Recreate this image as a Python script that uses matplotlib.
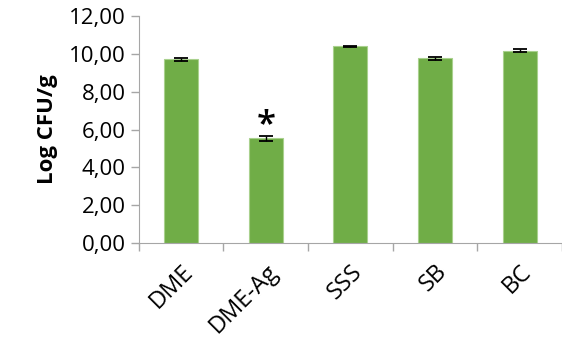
import matplotlib.pyplot as plt
import numpy as np

categories = ['DME', 'DME-Ag', 'SSS', 'SB', 'BC']
values = [9.72, 5.54, 10.40, 9.77, 10.16]
errors = [0.08, 0.12, 0.03, 0.07, 0.07]
yticks = [0, 2, 4, 6, 8, 10, 12]

plt.rcParams['font.family'] = ['Open Sans', 'DejaVu Sans']

fig = plt.figure(figsize=(5.62, 3.4), dpi=100)
ax = fig.add_axes([0.247, 0.285, 0.753, 0.668])

x = np.arange(len(categories))
ax.bar(x, values, width=0.4, color='#70AD47', edgecolor='#A9D18E', linewidth=0.8,
       yerr=errors, capsize=5, error_kw={'elinewidth': 1, 'capthick': 1.3, 'ecolor': 'black'})

# significance mark
ax.text(x[1], values[1] + errors[1] - 0.35, '*', ha='center', va='bottom',
        fontsize=25, fontweight='semibold')

ax.set_xlim(-0.5, len(categories) - 0.5)
ax.set_ylim(0, 12)
ax.set_yticks(yticks)
ax.set_yticklabels([('%.2f' % v).replace('.', ',') for v in yticks])

ax.set_xticks(np.arange(-0.5, len(categories) + 0.5, 1))
ax.set_xticklabels([])
ax.set_xticks(x, minor=True)
ax.set_xticklabels(categories, minor=True, rotation=45, ha='right', rotation_mode='anchor')
ax.tick_params(axis='x', which='major', length=6, color='#A6A6A6', width=1)
ax.tick_params(axis='x', which='minor', length=0, pad=12, labelsize=17)
ax.tick_params(axis='y', length=6, color='#A6A6A6', width=1, labelsize=16)

for s in ['top', 'right']:
    ax.spines[s].set_visible(False)
for s in ['left', 'bottom']:
    ax.spines[s].set_color('#A6A6A6')

ax.set_ylabel('Log CFU/g', fontsize=16, fontweight='bold', labelpad=8)

fig.savefig('out.png', dpi=100)
